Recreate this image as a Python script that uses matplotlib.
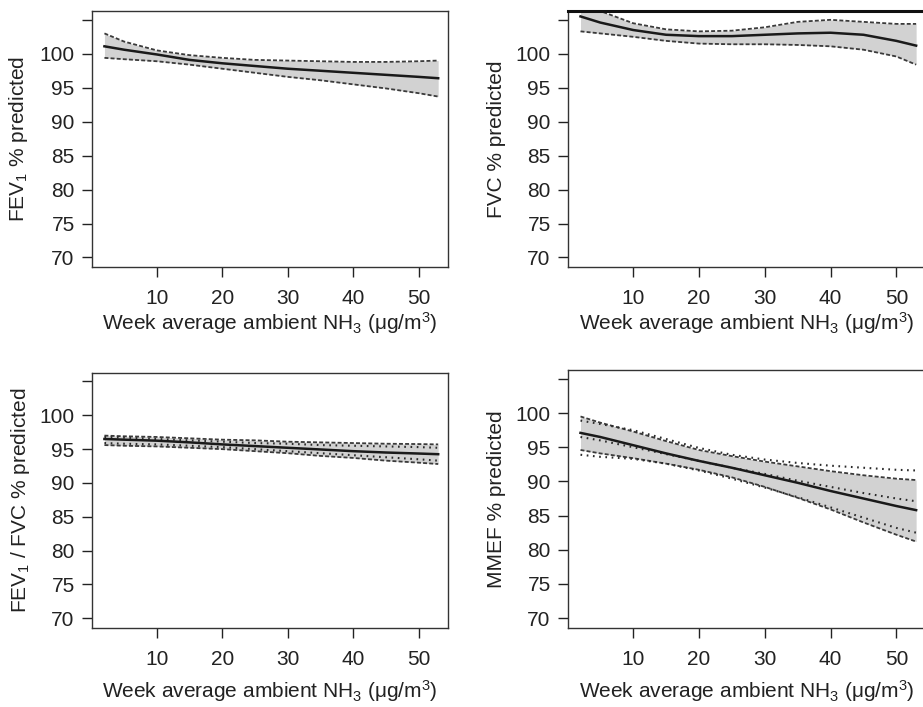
import matplotlib
matplotlib.use("Agg")
import matplotlib.pyplot as plt

plt.rcParams["font.family"] = ["Liberation Sans", "DejaVu Sans"]
plt.rcParams["mathtext.fontset"] = "custom"
plt.rcParams["mathtext.rm"] = "Liberation Sans"
plt.rcParams["mathtext.it"] = "Liberation Sans:italic"

# --- data ---
x = [2, 5, 10, 15, 20, 25, 30, 35, 40, 45, 50, 53]

# FEV1
fev1_fit = [101.1, 100.6, 99.9, 99.1, 98.6, 98.2, 97.8, 97.5, 97.2, 96.9, 96.6, 96.4]
fev1_hi = [103.0, 101.8, 100.5, 99.8, 99.4, 99.1, 99.0, 98.9, 98.8, 98.8, 98.9, 99.0]
fev1_lo = [99.4, 99.2, 98.9, 98.4, 97.8, 97.2, 96.6, 96.1, 95.5, 94.9, 94.2, 93.7]

# FVC
fvc_fit = [105.5, 104.6, 103.5, 102.8, 102.6, 102.6, 102.8, 103.0, 103.1, 102.8, 101.9, 101.2]
fvc_hi = [107.5, 106.3, 104.5, 103.6, 103.3, 103.4, 103.9, 104.7, 105.0, 104.7, 104.4, 104.4]
fvc_lo = [103.3, 103.0, 102.5, 101.9, 101.5, 101.4, 101.4, 101.3, 101.1, 100.6, 99.6, 98.4]

# FEV1/FVC
ratio_fit = [96.5, 96.4, 96.25, 96.0, 95.7, 95.45, 95.2, 94.95, 94.7, 94.5, 94.35, 94.25]
ratio_hi = [97.0, 96.9, 96.8, 96.6, 96.4, 96.3, 96.1, 96.0, 95.9, 95.8, 95.75, 95.7]
ratio_lo = [95.6, 95.5, 95.4, 95.2, 95.0, 94.7, 94.4, 94.0, 93.7, 93.3, 93.0, 92.8]
ratio_hi2 = [96.8, 96.7, 96.5, 96.3, 96.1, 95.9, 95.8, 95.6, 95.5, 95.4, 95.3, 95.2]
ratio_lo2 = [95.9, 95.8, 95.7, 95.5, 95.3, 95.0, 94.7, 94.4, 94.1, 93.8, 93.5, 93.3]

# MMEF
mmef_fit = [97.1, 96.5, 95.3, 94.1, 93.0, 92.0, 90.9, 89.8, 88.6, 87.5, 86.4, 85.8]
mmef_hi = [99.5, 98.6, 97.3, 95.9, 94.6, 93.7, 92.9, 92.2, 91.5, 90.9, 90.4, 90.2]
mmef_lo = [94.6, 94.1, 93.4, 92.6, 91.7, 90.6, 89.2, 87.6, 85.9, 84.0, 82.2, 81.2]
mmef_dot_hi = [98.9, 98.4, 97.5, 96.2, 94.9, 93.9, 93.2, 92.7, 92.3, 92.0, 91.7, 91.6]
mmef_dot_mid = [96.5, 96.0, 95.0, 94.0, 93.0, 92.0, 91.1, 90.1, 89.2, 88.3, 87.5, 87.1]
mmef_dot_lo = [93.9, 93.6, 93.3, 92.6, 91.6, 90.4, 89.1, 87.7, 86.2, 84.7, 83.2, 82.5]

ylabels = ["FEV$_1$ % predicted", "FVC % predicted",
           "FEV$_1$ / FVC % predicted", "MMEF % predicted"]
xlabel = "Week average ambient NH$_3$ (μg/m$^3$)"
yticks = [70, 75, 80, 85, 90, 95, 100, 105]
yticklabels = ["70", "75", "80", "85", "90", "95", "100", ""]
xticks = [10, 20, 30, 40, 50]

W, H = 923, 707
fig = plt.figure(figsize=(W / 100, H / 100), dpi=100)

# pixel boxes: left, right, top, bottom
boxes = [(92, 448, 11, 267), (568, 926, 11, 267),
         (92, 448, 372.7, 627.7), (568, 926, 370, 627.7)]
# x-label centre y (px), y-label centre offset from left spine (px)
xlab_y = [323, 323, 691.5, 691.5]
ylab_off = [74, 71, 72, 71]

txt = "#222222"
band_c = "#d2d2d2"
dash_c = "#3a3a3a"
fs = 15

panels = [
    (fev1_fit, fev1_hi, fev1_lo, []),
    (fvc_fit, fvc_hi, fvc_lo, []),
    (ratio_fit, ratio_hi, ratio_lo, [ratio_hi2, ratio_lo2]),
    (mmef_fit, mmef_hi, mmef_lo, [mmef_dot_hi, mmef_dot_mid, mmef_dot_lo]),
]

for i, ((fit, hi, lo, extra), (l, r, t, b)) in enumerate(zip(panels, boxes)):
    ax = fig.add_axes([l / W, 1 - b / H, (r - l) / W, (b - t) / H])
    ax.fill_between(x, lo, hi, color=band_c, lw=0)
    ax.plot(x, hi, color=dash_c, lw=1.3, dashes=(2.2, 1.2))
    ax.plot(x, lo, color=dash_c, lw=1.3, dashes=(2.2, 1.2))
    for e in extra:
        ax.plot(x, e, color="#2a2a2a", lw=1.5, dashes=(0.8, 2.2))
    ax.plot(x, fit, color="#1a1a1a", lw=1.8)

    ax.set_xlim(0.1, 54.5)
    ax.set_ylim(68.6, 106.3)
    ax.set_yticks(yticks)
    ax.set_yticklabels(yticklabels)
    ax.set_xticks(xticks)
    ax.tick_params(axis="y", length=7, width=1, pad=5.5, labelsize=fs,
                   colors=txt)
    ax.tick_params(axis="x", length=7, width=1, pad=9, labelsize=fs,
                   colors=txt)
    for s in ax.spines.values():
        s.set_color("#333333")
        s.set_linewidth(1.0)
    if i == 1:
        ax.spines["top"].set_linewidth(2.2)
        ax.spines["top"].set_color("#111111")

    w_px, h_px = r - l, b - t
    ax.set_ylabel(ylabels[i], fontsize=fs, color=txt, va="center")
    ax.yaxis.set_label_coords(-ylab_off[i] / w_px, 0.5)
    ax.set_xlabel(xlabel, fontsize=fs, color=txt, va="center")
    ax.xaxis.set_label_coords(0.5, -(xlab_y[i] - b) / h_px)

fig.savefig("out.png", dpi=100, facecolor="white")
